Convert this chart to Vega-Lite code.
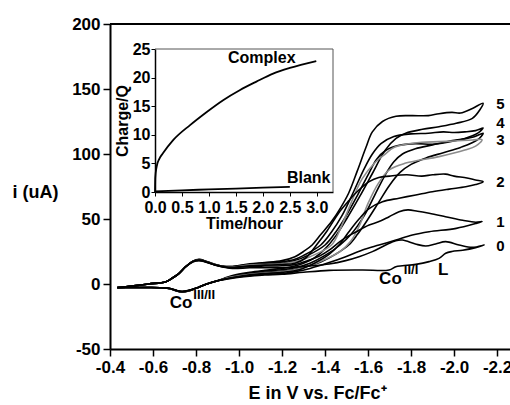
{
"$schema": "https://vega.github.io/schema/vega-lite/v6.json",
"width": 400, "height": 325,
"autosize": {"type": "none"},
"padding": {"left": 110, "top": 24, "right": 0, "bottom": 56},
"background": "white",
"config": {"view": {"stroke": null}, "font": "Liberation Sans",
  "axis": {"grid": false, "domainColor": "#000", "tickColor": "#000", "labelColor": "#000", "titleColor": "#000", "labelFont": "Liberation Sans", "titleFont": "Liberation Sans", "labelFontWeight": "bold", "titleFontWeight": "bold", "labelOverlap": false, "labelBound": false, "labelFlush": false}},
"datasets": {
"cv": [
{"c":"5","E":-0.434,"i":-2.8},{"c":"5","E":-0.5,"i":-1.6},{"c":"5","E":-0.58,"i":0},{"c":"5","E":-0.66,"i":1.8},{"c":"5","E":-0.69,"i":4.6},{"c":"5","E":-0.72,"i":8},{"c":"5","E":-0.752,"i":13.3},{"c":"5","E":-0.785,"i":17.6},{"c":"5","E":-0.814,"i":19},{"c":"5","E":-0.85,"i":17.3},{"c":"5","E":-0.89,"i":15},{"c":"5","E":-0.93,"i":13.6},{"c":"5","E":-0.97,"i":13.5},{"c":"5","E":-1.05,"i":15.5},{"c":"5","E":-1.12,"i":16.5},{"c":"5","E":-1.2,"i":18},
{"c":"5","E":-1.26,"i":21},{"c":"5","E":-1.3,"i":25},{"c":"5","E":-1.34,"i":30},{"c":"5","E":-1.38,"i":38},{"c":"5","E":-1.43,"i":48},{"c":"5","E":-1.47,"i":58},{"c":"5","E":-1.51,"i":70},{"c":"5","E":-1.55,"i":87},{"c":"5","E":-1.59,"i":105},{"c":"5","E":-1.62,"i":117},{"c":"5","E":-1.667,"i":125},{"c":"5","E":-1.73,"i":129},{"c":"5","E":-1.8,"i":129.5},{"c":"5","E":-1.88,"i":129.5},{"c":"5","E":-1.93,"i":131},{"c":"5","E":-1.99,"i":132},{"c":"5","E":-2.03,"i":131.5},{"c":"5","E":-2.085,"i":135},{"c":"5","E":-2.135,"i":139},
{"c":"5","E":-2.12,"i":134},{"c":"5","E":-2.085,"i":127.4},{"c":"5","E":-2.01,"i":123.6},{"c":"5","E":-1.93,"i":121},{"c":"5","E":-1.853,"i":119},{"c":"5","E":-1.775,"i":116},{"c":"5","E":-1.73,"i":112},{"c":"5","E":-1.68,"i":103},{"c":"5","E":-1.62,"i":85},{"c":"5","E":-1.56,"i":67},{"c":"5","E":-1.5,"i":50},{"c":"5","E":-1.45,"i":37},{"c":"5","E":-1.4,"i":27},{"c":"5","E":-1.35,"i":20},{"c":"5","E":-1.3,"i":16},{"c":"5","E":-1.25,"i":13.5},
{"c":"5","E":-1.2,"i":12},{"c":"5","E":-1.12,"i":10.5},{"c":"5","E":-1.05,"i":9},{"c":"5","E":-0.97,"i":6.5},{"c":"5","E":-0.9,"i":2.5},{"c":"5","E":-0.85,"i":0},{"c":"5","E":-0.81,"i":-2.6},{"c":"5","E":-0.77,"i":-5.2},{"c":"5","E":-0.735,"i":-6.3},{"c":"5","E":-0.71,"i":-5.4},{"c":"5","E":-0.68,"i":-3.7},{"c":"5","E":-0.64,"i":-2.9},{"c":"5","E":-0.58,"i":-2.7},{"c":"5","E":-0.5,"i":-2.7},{"c":"5","E":-0.434,"i":-2.8},

{"c":"4","E":-0.434,"i":-2.8},{"c":"4","E":-0.5,"i":-1.6},{"c":"4","E":-0.58,"i":0},{"c":"4","E":-0.66,"i":1.8},{"c":"4","E":-0.69,"i":4.6},{"c":"4","E":-0.72,"i":8},{"c":"4","E":-0.752,"i":13.3},{"c":"4","E":-0.785,"i":17.5},{"c":"4","E":-0.814,"i":18.8},{"c":"4","E":-0.85,"i":17.2},{"c":"4","E":-0.89,"i":14.9},{"c":"4","E":-0.93,"i":13.5},{"c":"4","E":-0.97,"i":13.5},{"c":"4","E":-1.05,"i":15},{"c":"4","E":-1.12,"i":16},{"c":"4","E":-1.2,"i":17},
{"c":"4","E":-1.26,"i":19},{"c":"4","E":-1.3,"i":22},{"c":"4","E":-1.38,"i":30},{"c":"4","E":-1.43,"i":40},{"c":"4","E":-1.48,"i":53},{"c":"4","E":-1.53,"i":70},{"c":"4","E":-1.58,"i":88},{"c":"4","E":-1.62,"i":100},{"c":"4","E":-1.66,"i":108},{"c":"4","E":-1.72,"i":113.5},{"c":"4","E":-1.8,"i":115.5},{"c":"4","E":-1.88,"i":116},{"c":"4","E":-1.95,"i":117},{"c":"4","E":-2.0,"i":116.5},{"c":"4","E":-2.05,"i":117},{"c":"4","E":-2.1,"i":118},{"c":"4","E":-2.135,"i":120},
{"c":"4","E":-2.11,"i":116},{"c":"4","E":-2.05,"i":112},{"c":"4","E":-1.98,"i":110},{"c":"4","E":-1.9,"i":107},{"c":"4","E":-1.82,"i":104},{"c":"4","E":-1.76,"i":100},{"c":"4","E":-1.72,"i":94},{"c":"4","E":-1.68,"i":84},{"c":"4","E":-1.63,"i":68},{"c":"4","E":-1.58,"i":52},{"c":"4","E":-1.52,"i":38},{"c":"4","E":-1.47,"i":30},{"c":"4","E":-1.4,"i":22},{"c":"4","E":-1.33,"i":16},{"c":"4","E":-1.26,"i":12.5},
{"c":"4","E":-1.2,"i":11},{"c":"4","E":-1.12,"i":10},{"c":"4","E":-1.05,"i":8.5},{"c":"4","E":-0.97,"i":6},{"c":"4","E":-0.9,"i":2.5},{"c":"4","E":-0.85,"i":0},{"c":"4","E":-0.81,"i":-2.6},{"c":"4","E":-0.77,"i":-5.1},{"c":"4","E":-0.735,"i":-6.1},{"c":"4","E":-0.71,"i":-5.3},{"c":"4","E":-0.68,"i":-3.6},{"c":"4","E":-0.64,"i":-2.9},{"c":"4","E":-0.58,"i":-2.7},{"c":"4","E":-0.5,"i":-2.7},{"c":"4","E":-0.434,"i":-2.8},

{"c":"3","E":-0.434,"i":-2.8},{"c":"3","E":-0.5,"i":-1.6},{"c":"3","E":-0.58,"i":0},{"c":"3","E":-0.66,"i":1.8},{"c":"3","E":-0.69,"i":4.6},{"c":"3","E":-0.72,"i":8},{"c":"3","E":-0.752,"i":13.3},{"c":"3","E":-0.785,"i":17.4},{"c":"3","E":-0.814,"i":18.6},{"c":"3","E":-0.85,"i":17.1},{"c":"3","E":-0.89,"i":14.8},{"c":"3","E":-0.93,"i":13.4},{"c":"3","E":-0.97,"i":13},{"c":"3","E":-1.05,"i":14.5},{"c":"3","E":-1.12,"i":15.5},{"c":"3","E":-1.2,"i":16},
{"c":"3","E":-1.26,"i":18},{"c":"3","E":-1.32,"i":22},{"c":"3","E":-1.4,"i":30},{"c":"3","E":-1.45,"i":40},{"c":"3","E":-1.5,"i":53},{"c":"3","E":-1.55,"i":68},{"c":"3","E":-1.6,"i":84},{"c":"3","E":-1.64,"i":96},{"c":"3","E":-1.68,"i":102.5},{"c":"3","E":-1.74,"i":106.5},{"c":"3","E":-1.82,"i":108},{"c":"3","E":-1.9,"i":107.5},{"c":"3","E":-1.97,"i":109},{"c":"3","E":-2.03,"i":111},{"c":"3","E":-2.09,"i":113},{"c":"3","E":-2.135,"i":116},
{"c":"3","E":-2.11,"i":111},{"c":"3","E":-2.03,"i":105},{"c":"3","E":-1.95,"i":101},{"c":"3","E":-1.87,"i":97},{"c":"3","E":-1.8,"i":92},{"c":"3","E":-1.75,"i":86},{"c":"3","E":-1.7,"i":76},{"c":"3","E":-1.65,"i":63},{"c":"3","E":-1.6,"i":50},{"c":"3","E":-1.55,"i":38},{"c":"3","E":-1.51,"i":30},{"c":"3","E":-1.45,"i":23},{"c":"3","E":-1.38,"i":17},{"c":"3","E":-1.3,"i":13},{"c":"3","E":-1.25,"i":11},
{"c":"3","E":-1.2,"i":10},{"c":"3","E":-1.12,"i":9},{"c":"3","E":-1.05,"i":8},{"c":"3","E":-0.97,"i":5.5},{"c":"3","E":-0.9,"i":2.5},{"c":"3","E":-0.85,"i":0},{"c":"3","E":-0.81,"i":-2.6},{"c":"3","E":-0.77,"i":-5},{"c":"3","E":-0.735,"i":-6},{"c":"3","E":-0.71,"i":-5.2},{"c":"3","E":-0.68,"i":-3.6},{"c":"3","E":-0.64,"i":-2.9},{"c":"3","E":-0.58,"i":-2.7},{"c":"3","E":-0.5,"i":-2.7},{"c":"3","E":-0.434,"i":-2.8},

{"c":"g","E":-0.434,"i":-2.8},{"c":"g","E":-0.5,"i":-1.6},{"c":"g","E":-0.58,"i":0},{"c":"g","E":-0.66,"i":1.8},{"c":"g","E":-0.69,"i":4.6},{"c":"g","E":-0.72,"i":8},{"c":"g","E":-0.752,"i":13.3},{"c":"g","E":-0.785,"i":17.4},{"c":"g","E":-0.814,"i":18.5},{"c":"g","E":-0.85,"i":17},{"c":"g","E":-0.89,"i":14.8},{"c":"g","E":-0.93,"i":13.3},{"c":"g","E":-0.97,"i":13},{"c":"g","E":-1.05,"i":14.5},{"c":"g","E":-1.12,"i":15},{"c":"g","E":-1.2,"i":15.5},
{"c":"g","E":-1.26,"i":17},{"c":"g","E":-1.33,"i":21},{"c":"g","E":-1.43,"i":30},{"c":"g","E":-1.47,"i":42},{"c":"g","E":-1.51,"i":58},{"c":"g","E":-1.573,"i":81},{"c":"g","E":-1.636,"i":94},{"c":"g","E":-1.68,"i":100},{"c":"g","E":-1.72,"i":105},{"c":"g","E":-1.775,"i":107.5},{"c":"g","E":-1.85,"i":109},{"c":"g","E":-1.93,"i":109.5},{"c":"g","E":-2.0,"i":110},{"c":"g","E":-2.085,"i":110.8},{"c":"g","E":-2.13,"i":111},
{"c":"g","E":-2.1,"i":106},{"c":"g","E":-2.05,"i":103},{"c":"g","E":-1.93,"i":98},{"c":"g","E":-1.775,"i":93},{"c":"g","E":-1.7,"i":88},{"c":"g","E":-1.65,"i":78},{"c":"g","E":-1.6,"i":62},{"c":"g","E":-1.56,"i":45},{"c":"g","E":-1.52,"i":33},{"c":"g","E":-1.47,"i":25},{"c":"g","E":-1.4,"i":19},{"c":"g","E":-1.33,"i":14},{"c":"g","E":-1.26,"i":11},
{"c":"g","E":-1.2,"i":9.5},{"c":"g","E":-1.12,"i":8.5},{"c":"g","E":-1.05,"i":7.5},{"c":"g","E":-0.97,"i":5.5},{"c":"g","E":-0.9,"i":2.5},{"c":"g","E":-0.85,"i":0},{"c":"g","E":-0.81,"i":-2.6},{"c":"g","E":-0.77,"i":-5},{"c":"g","E":-0.735,"i":-6},{"c":"g","E":-0.71,"i":-5.2},{"c":"g","E":-0.68,"i":-3.6},{"c":"g","E":-0.64,"i":-2.9},{"c":"g","E":-0.58,"i":-2.7},{"c":"g","E":-0.5,"i":-2.7},{"c":"g","E":-0.434,"i":-2.8},

{"c":"2","E":-0.434,"i":-2.8},{"c":"2","E":-0.5,"i":-1.6},{"c":"2","E":-0.58,"i":0},{"c":"2","E":-0.66,"i":1.8},{"c":"2","E":-0.69,"i":4.6},{"c":"2","E":-0.72,"i":8},{"c":"2","E":-0.752,"i":13.3},{"c":"2","E":-0.785,"i":17.3},{"c":"2","E":-0.814,"i":18.4},{"c":"2","E":-0.85,"i":16.9},{"c":"2","E":-0.89,"i":14.7},{"c":"2","E":-0.93,"i":13.2},{"c":"2","E":-0.97,"i":12.8},{"c":"2","E":-1.05,"i":14},{"c":"2","E":-1.12,"i":14.5},{"c":"2","E":-1.2,"i":15},
{"c":"2","E":-1.26,"i":16},{"c":"2","E":-1.31,"i":20},{"c":"2","E":-1.36,"i":30},{"c":"2","E":-1.41,"i":41},{"c":"2","E":-1.465,"i":55},{"c":"2","E":-1.51,"i":64},{"c":"2","E":-1.543,"i":70},{"c":"2","E":-1.605,"i":78.7},{"c":"2","E":-1.65,"i":82},{"c":"2","E":-1.7,"i":83},{"c":"2","E":-1.78,"i":84},{"c":"2","E":-1.85,"i":83},{"c":"2","E":-1.9,"i":84},{"c":"2","E":-1.96,"i":84.5},{"c":"2","E":-2.0,"i":83},{"c":"2","E":-2.06,"i":81.5},{"c":"2","E":-2.1,"i":80},{"c":"2","E":-2.135,"i":78.7},
{"c":"2","E":-2.1,"i":76.5},{"c":"2","E":-2.054,"i":74.8},{"c":"2","E":-1.977,"i":73},{"c":"2","E":-1.899,"i":71},{"c":"2","E":-1.822,"i":68.5},{"c":"2","E":-1.744,"i":66},{"c":"2","E":-1.667,"i":63.3},{"c":"2","E":-1.605,"i":58},{"c":"2","E":-1.558,"i":50},{"c":"2","E":-1.51,"i":40},{"c":"2","E":-1.47,"i":31},{"c":"2","E":-1.42,"i":23},{"c":"2","E":-1.35,"i":16},{"c":"2","E":-1.28,"i":11},
{"c":"2","E":-1.2,"i":9},{"c":"2","E":-1.12,"i":8},{"c":"2","E":-1.05,"i":7},{"c":"2","E":-0.97,"i":5},{"c":"2","E":-0.9,"i":2.5},{"c":"2","E":-0.85,"i":0},{"c":"2","E":-0.81,"i":-2.6},{"c":"2","E":-0.77,"i":-4.9},{"c":"2","E":-0.735,"i":-5.9},{"c":"2","E":-0.71,"i":-5.1},{"c":"2","E":-0.68,"i":-3.5},{"c":"2","E":-0.64,"i":-2.9},{"c":"2","E":-0.58,"i":-2.7},{"c":"2","E":-0.5,"i":-2.7},{"c":"2","E":-0.434,"i":-2.8},

{"c":"1","E":-0.434,"i":-2.8},{"c":"1","E":-0.5,"i":-1.6},{"c":"1","E":-0.58,"i":0},{"c":"1","E":-0.66,"i":1.8},{"c":"1","E":-0.69,"i":4.6},{"c":"1","E":-0.72,"i":8},{"c":"1","E":-0.752,"i":13.3},{"c":"1","E":-0.785,"i":17.2},{"c":"1","E":-0.814,"i":18.2},{"c":"1","E":-0.85,"i":16.8},{"c":"1","E":-0.89,"i":14.6},{"c":"1","E":-0.93,"i":13.1},{"c":"1","E":-0.97,"i":12.5},{"c":"1","E":-1.05,"i":13.5},{"c":"1","E":-1.12,"i":13.8},{"c":"1","E":-1.2,"i":14},
{"c":"1","E":-1.26,"i":15},{"c":"1","E":-1.32,"i":18},{"c":"1","E":-1.38,"i":22},{"c":"1","E":-1.419,"i":26},{"c":"1","E":-1.48,"i":34},{"c":"1","E":-1.543,"i":40},{"c":"1","E":-1.605,"i":45.4},{"c":"1","E":-1.651,"i":48},{"c":"1","E":-1.698,"i":51.8},{"c":"1","E":-1.744,"i":55.6},{"c":"1","E":-1.785,"i":57},{"c":"1","E":-1.83,"i":56},{"c":"1","E":-1.884,"i":54.4},{"c":"1","E":-1.96,"i":51.8},{"c":"1","E":-2.04,"i":49},{"c":"1","E":-2.1,"i":47.5},{"c":"1","E":-2.13,"i":48},
{"c":"1","E":-2.1,"i":46.5},{"c":"1","E":-2.01,"i":42.8},{"c":"1","E":-1.884,"i":40.2},{"c":"1","E":-1.806,"i":37.7},{"c":"1","E":-1.73,"i":33.8},{"c":"1","E":-1.651,"i":30},{"c":"1","E":-1.574,"i":26.2},{"c":"1","E":-1.496,"i":21},{"c":"1","E":-1.419,"i":16.5},{"c":"1","E":-1.33,"i":12},{"c":"1","E":-1.26,"i":9.5},
{"c":"1","E":-1.2,"i":8},{"c":"1","E":-1.12,"i":7.5},{"c":"1","E":-1.05,"i":6.5},{"c":"1","E":-0.97,"i":4.8},{"c":"1","E":-0.9,"i":2.5},{"c":"1","E":-0.85,"i":0},{"c":"1","E":-0.81,"i":-2.6},{"c":"1","E":-0.77,"i":-4.8},{"c":"1","E":-0.735,"i":-5.8},{"c":"1","E":-0.71,"i":-5},{"c":"1","E":-0.68,"i":-3.5},{"c":"1","E":-0.64,"i":-2.9},{"c":"1","E":-0.58,"i":-2.7},{"c":"1","E":-0.5,"i":-2.7},{"c":"1","E":-0.434,"i":-2.8},

{"c":"0","E":-0.434,"i":-2.8},{"c":"0","E":-0.5,"i":-1.6},{"c":"0","E":-0.58,"i":0},{"c":"0","E":-0.66,"i":1.8},{"c":"0","E":-0.69,"i":4.6},{"c":"0","E":-0.72,"i":8},{"c":"0","E":-0.752,"i":13.3},{"c":"0","E":-0.785,"i":17},{"c":"0","E":-0.814,"i":18},{"c":"0","E":-0.85,"i":16.6},{"c":"0","E":-0.89,"i":14.5},{"c":"0","E":-0.93,"i":13},{"c":"0","E":-0.97,"i":12},{"c":"0","E":-1.05,"i":12.5},{"c":"0","E":-1.12,"i":12.5},{"c":"0","E":-1.2,"i":12.5},
{"c":"0","E":-1.26,"i":13},{"c":"0","E":-1.34,"i":14},{"c":"0","E":-1.419,"i":15.4},{"c":"0","E":-1.496,"i":18},{"c":"0","E":-1.558,"i":21},{"c":"0","E":-1.62,"i":24.9},{"c":"0","E":-1.682,"i":30},{"c":"0","E":-1.729,"i":33.3},{"c":"0","E":-1.76,"i":33.8},{"c":"0","E":-1.82,"i":30.8},{"c":"0","E":-1.868,"i":29.2},{"c":"0","E":-1.914,"i":30.8},{"c":"0","E":-1.961,"i":32.6},{"c":"0","E":-2.023,"i":30},{"c":"0","E":-2.085,"i":28.2},{"c":"0","E":-2.14,"i":30},
{"c":"0","E":-2.1,"i":28},{"c":"0","E":-2.04,"i":26},{"c":"0","E":-1.99,"i":25},{"c":"0","E":-1.961,"i":23.6},{"c":"0","E":-1.93,"i":19.7},{"c":"0","E":-1.884,"i":17.2},{"c":"0","E":-1.822,"i":15.1},{"c":"0","E":-1.76,"i":14},{"c":"0","E":-1.729,"i":13.3},{"c":"0","E":-1.698,"i":10.8},{"c":"0","E":-1.574,"i":10.8},{"c":"0","E":-1.419,"i":10.5},{"c":"0","E":-1.3,"i":9},
{"c":"0","E":-1.2,"i":7.5},{"c":"0","E":-1.12,"i":7},{"c":"0","E":-1.05,"i":6},{"c":"0","E":-0.97,"i":4.5},{"c":"0","E":-0.9,"i":2.5},{"c":"0","E":-0.85,"i":0},{"c":"0","E":-0.81,"i":-2.6},{"c":"0","E":-0.77,"i":-4.7},{"c":"0","E":-0.735,"i":-5.7},{"c":"0","E":-0.71,"i":-4.9},{"c":"0","E":-0.68,"i":-3.4},{"c":"0","E":-0.64,"i":-2.9},{"c":"0","E":-0.58,"i":-2.7},{"c":"0","E":-0.5,"i":-2.7},{"c":"0","E":-0.434,"i":-2.8}
],
"lab": [
{"t":"5","E":-2.216,"i":138.5},{"t":"4","E":-2.216,"i":123.5},{"t":"3","E":-2.216,"i":111},{"t":"2","E":-2.216,"i":78.7},{"t":"1","E":-2.216,"i":48},{"t":"0","E":-2.216,"i":29.5}
],
"co": [
{"t":"Co","E":-0.73,"i":-14.5},{"t":"Co","E":-1.704,"i":3.5},{"t":"L","E":-1.949,"i":10.4}
],
"sup": [
{"t":"III/II","E":-0.838,"i":-8.5},{"t":"II/I","E":-1.8,"i":11}
],
"q": [
{"s":"Complex","t":0,"q":0},{"s":"Complex","t":0.005,"q":2.5},{"s":"Complex","t":0.03,"q":4.4},{"s":"Complex","t":0.08,"q":5.8},{"s":"Complex","t":0.15,"q":6.8},{"s":"Complex","t":0.34,"q":9.1},{"s":"Complex","t":0.65,"q":11.7},{"s":"Complex","t":0.96,"q":14},{"s":"Complex","t":1.27,"q":16.1},{"s":"Complex","t":1.57,"q":17.8},{"s":"Complex","t":1.88,"q":19.3},{"s":"Complex","t":2.19,"q":20.7},{"s":"Complex","t":2.5,"q":21.7},{"s":"Complex","t":2.99,"q":22.9},
{"s":"Blank","t":0,"q":0.1},{"s":"Blank","t":0.5,"q":0.3},{"s":"Blank","t":1,"q":0.45},{"s":"Blank","t":1.5,"q":0.6},{"s":"Blank","t":2,"q":0.75},{"s":"Blank","t":2.5,"q":0.9}
],
"qlab": [
{"t":"Complex","x":1.98,"y":23.4},{"t":"Blank","x":2.85,"y":2.5}
]
},
"layer": [
{"layer": [
 {"data": {"name": "cv"},
  "transform": [{"window": [{"op": "row_number", "as": "k"}]}],
  "mark": {"type": "line", "interpolate": "catmull-rom", "strokeWidth": 1.6},
  "encoding": {
   "x": {"field": "E", "type": "quantitative",
     "scale": {"domain": [-0.4, -2.26], "nice": false, "zero": false},
     "axis": {"title": "E in V vs. Fc/Fc⁺", "titleFontSize": 18, "titleX": 207, "titlePadding": 9,
       "values": [-0.4,-0.5,-0.6,-0.7,-0.8,-0.9,-1.0,-1.1,-1.2,-1.3,-1.4,-1.5,-1.6,-1.7,-1.8,-1.9,-2.0,-2.1,-2.2],
       "labelExpr": "abs(round(datum.value*10)) % 2 == 0 ? (datum.value < 0 ? '-' : '') + format(abs(datum.value), '.1f') : ''",
       "tickSize": {"condition": {"test": "abs(round(datum.value*10)) % 2 == 0", "value": 7}, "value": 4},
       "labelFontSize": 17, "labelPadding": 3, "domainWidth": 2, "tickWidth": 1.5}},
   "y": {"field": "i", "type": "quantitative",
     "scale": {"domain": [-50, 200], "nice": false, "zero": false},
     "axis": {"title": "i  (uA)", "titleFontSize": 18, "titleAngle": 0, "titleAlign": "left", "titleBaseline": "middle", "titleX": -98, "titleY": 168,
       "values": [-50,-25,0,25,50,75,100,125,150,175,200],
       "labelExpr": "datum.value % 50 == 0 ? (datum.value < 0 ? '-' : '') + format(abs(datum.value), 'd') : ''",
       "tickSize": {"condition": {"test": "datum.value % 50 == 0", "value": 7}, "value": 4},
       "labelFontSize": 17, "labelPadding": 3, "domainWidth": 2, "tickWidth": 1.5}},
   "order": {"field": "k", "type": "quantitative"},
   "detail": {"field": "c", "type": "nominal"},
   "color": {"field": "c", "type": "nominal", "legend": null,
     "scale": {"domain": ["0","1","2","3","g","4","5"], "range": ["#000000","#000000","#000000","#000000","#8c8c8c","#000000","#000000"]}}
  }},
 {"data": {"values": [{}]},
  "mark": {"type": "rule", "strokeWidth": 2, "color": "#000"},
  "encoding": {"y": {"datum": 200}}},
 {"data": {"name": "lab"},
  "mark": {"type": "text", "font": "Liberation Sans", "fontWeight": "bold", "fontSize": 15, "baseline": "middle", "align": "center", "color": "#000"},
  "encoding": {"x": {"field": "E", "type": "quantitative"}, "y": {"field": "i", "type": "quantitative"}, "text": {"field": "t"}}},
 {"data": {"name": "co"},
  "mark": {"type": "text", "font": "Liberation Sans", "fontWeight": "bold", "fontSize": 17, "baseline": "middle", "align": "center", "color": "#000"},
  "encoding": {"x": {"field": "E", "type": "quantitative"}, "y": {"field": "i", "type": "quantitative"}, "text": {"field": "t"}}},
 {"data": {"name": "sup"},
  "mark": {"type": "text", "font": "Liberation Sans", "fontWeight": "bold", "fontSize": 13, "baseline": "middle", "align": "center", "color": "#000"},
  "encoding": {"x": {"field": "E", "type": "quantitative"}, "y": {"field": "i", "type": "quantitative"}, "text": {"field": "t"}}}
]},
{"layer": [
 {"data": {"name": "q"},
  "mark": {"type": "line", "interpolate": "monotone", "strokeWidth": 1.8, "color": "#000"},
  "encoding": {
   "x": {"field": "t", "type": "quantitative",
     "scale": {"domain": [0, 3.3], "range": [45, 223], "nice": false, "zero": false},
     "axis": {"orient": "bottom", "offset": -157, "title": "Time/hour", "titleFontSize": 16, "titlePadding": 0,
       "values": [0,0.25,0.5,0.75,1,1.25,1.5,1.75,2,2.25,2.5,2.75,3,3.25],
       "labelExpr": "round(datum.value*4) % 2 == 0 ? format(datum.value, '.1f') : ''",
       "tickSize": {"condition": {"test": "round(datum.value*4) % 2 == 0", "value": 4}, "value": 2},
       "labelFontSize": 16, "labelPadding": 3, "domainWidth": 1.5, "tickWidth": 1}},
   "y": {"field": "q", "type": "quantitative",
     "scale": {"domain": [0, 25], "range": [168, 25], "nice": false, "zero": false},
     "axis": {"orient": "left", "offset": -45, "title": "Charge/Q", "titleFontSize": 16, "titlePadding": 2,
       "values": [0,2.5,5,7.5,10,12.5,15,17.5,20,22.5,25],
       "labelExpr": "datum.value % 5 == 0 ? format(datum.value, 'd') : ''",
       "tickSize": {"condition": {"test": "datum.value % 5 == 0", "value": 4}, "value": 2},
       "labelFontSize": 16, "labelPadding": 1, "domainWidth": 1.5, "tickWidth": 1}},
   "detail": {"field": "s", "type": "nominal"}
  }},
 {"data": {"values": [{}]},
  "mark": {"type": "rule", "strokeWidth": 1, "color": "#555"},
  "encoding": {"x": {"datum": 0}, "x2": {"datum": 3.3}, "y": {"datum": 25}}},
 {"data": {"values": [{}]},
  "mark": {"type": "rule", "strokeWidth": 1, "color": "#555"},
  "encoding": {"x": {"datum": 3.3}, "y": {"datum": 0}, "y2": {"datum": 25}}},
 {"data": {"name": "qlab"},
  "mark": {"type": "text", "font": "Liberation Sans", "fontWeight": "bold", "fontSize": 16, "baseline": "middle", "align": "center", "color": "#000"},
  "encoding": {"x": {"field": "x", "type": "quantitative"}, "y": {"field": "y", "type": "quantitative"}, "text": {"field": "t"}}}
]}
],
"resolve": {"scale": {"x": "independent", "y": "independent"}}
}
